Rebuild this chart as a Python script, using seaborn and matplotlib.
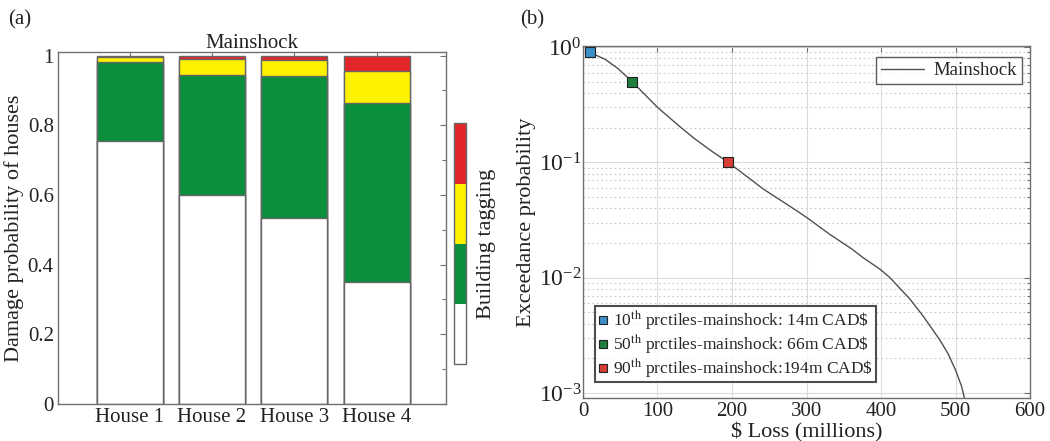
import numpy as np
import pandas as pd
import matplotlib
matplotlib.use("Agg")
import matplotlib.pyplot as plt
import seaborn as sns
from matplotlib.colors import ListedColormap
from matplotlib.ticker import MultipleLocator, LogLocator, NullFormatter
import matplotlib as mpl

# ---------------- data ----------------
houses = ["House 1", "House 2", "House 3", "House 4"]
p_green_tag = [0.755, 0.600, 0.535, 0.350]   # white (no tag)
p_green = [0.225, 0.345, 0.405, 0.515]
p_yellow = [0.015, 0.045, 0.047, 0.090]
p_red = [0.005, 0.010, 0.013, 0.045]

tag_colors = ["#FFFFFF", "#0A8F3C", "#FFF200", "#E3262A"]

loss = [9, 30, 47, 66, 100, 130, 150, 175, 195, 242, 287, 301, 331, 361,
        376, 399, 412, 439, 457, 466, 479, 490, 500, 508, 512]
exceed = [0.90, 0.78, 0.65, 0.50, 0.30, 0.204, 0.16, 0.122, 0.10, 0.0587,
          0.0380, 0.033, 0.0238, 0.0177, 0.0149, 0.0118, 0.0100, 0.0065,
          0.0046, 0.0038, 0.00288, 0.00219, 0.00158, 0.00115, 0.0009]

pct_loss = [9, 66, 194]
pct_prob = [0.9, 0.5, 0.1]
pct_labels = ["10$^{\\rm th}$ prctiles-mainshock: 14m CAD\\$",
              "50$^{\\rm th}$ prctiles-mainshock: 66m CAD\\$",
              "90$^{\\rm th}$ prctiles-mainshock:194m CAD\\$"]
pct_colors = ["#3A8FC8", "#1F7F3F", "#D63E36"]

# ---------------- style ----------------
sns.set_theme(style="white")
plt.rcParams["font.family"] = ["Liberation Serif", "DejaVu Serif"]
plt.rcParams["mathtext.fontset"] = "stix"
plt.rcParams["axes.edgecolor"] = "#707070"
plt.rcParams["xtick.color"] = "#707070"
plt.rcParams["ytick.color"] = "#707070"
plt.rcParams["xtick.labelcolor"] = "#222222"
plt.rcParams["ytick.labelcolor"] = "#222222"

TXT = "#222222"
fig = plt.figure(figsize=(10.5, 4.41), dpi=100)
ax1 = fig.add_axes([0.0552, 0.0839, 0.4248 - 0.0552, 0.882 - 0.0839])
cax = fig.add_axes([0.4327, 0.1739, 0.0111, 0.5465])
ax2 = fig.add_axes([0.5552, 0.0968, 0.981 - 0.5552, 0.8957 - 0.0968])

# ---------------- panel (a) ----------------
c1 = np.array(p_green_tag)
c2 = c1 + np.array(p_green)
c3 = c2 + np.array(p_yellow)
c4 = c3 + np.array(p_red)
layers = [c4, c3, c2, c1]
lcols = [tag_colors[3], tag_colors[2], tag_colors[1], tag_colors[0]]
for vals, col in zip(layers, lcols):
    df = pd.DataFrame({"house": houses, "p": vals})
    sns.barplot(data=df, x="house", y="p", color=col, width=0.8,
                edgecolor="#666666", linewidth=1.0, saturation=1, ax=ax1)

ax1.set_xlim(-0.87, 3.84)
ax1.set_ylim(0, 1.01)
ax1.set_xlabel("")
ax1.set_ylabel("Damage probability of houses", fontsize=16, color=TXT, labelpad=3)
ax1.set_title("Mainshock", fontsize=15, color=TXT, pad=3)
ax1.set_yticks([0, 0.2, 0.4, 0.6, 0.8, 1.0])
ax1.set_yticklabels(["0", "0.2", "0.4", "0.6", "0.8", "1"])
ax1.yaxis.set_minor_locator(MultipleLocator(0.1))
ax1.tick_params(axis="both", which="both", direction="in", top=True, right=True,
                labelsize=15, length=4, width=0.8, pad=3)
ax1.tick_params(axis="y", which="minor", length=3)
for s in ax1.spines.values():
    s.set_linewidth(1.0)

cmap = ListedColormap(tag_colors)
cb = mpl.colorbar.ColorbarBase(cax, cmap=cmap, orientation="vertical")
cb.set_ticks([])
cb.outline.set_edgecolor("#666666")
cb.outline.set_linewidth(1.0)
cax.set_ylabel("Building tagging", fontsize=16, color=TXT, rotation=90, labelpad=8)
cax.yaxis.set_label_position("right")

# ---------------- panel (b) ----------------
dfc = pd.DataFrame({"loss": loss, "p": exceed})
sns.lineplot(data=dfc, x="loss", y="p", color="#505050", linewidth=1.0, ax=ax2,
             label="Mainshock", sort=False)
ax2.set_yscale("log")
ax2.set_xlim(0, 600)
ax2.set_ylim(9.0e-4, 1.02)
ax2.xaxis.set_major_locator(MultipleLocator(100))
ax2.yaxis.set_major_locator(LogLocator(base=10, numticks=10))
ax2.yaxis.set_minor_locator(LogLocator(base=10, subs=np.arange(2, 10), numticks=10))
ax2.yaxis.set_minor_formatter(NullFormatter())
ax2.grid(True, which="major", color="#dcdcdc", linestyle="-", linewidth=0.8)
ax2.grid(True, which="minor", axis="y", color="#c8c8c8", linestyle=(0, (1.5, 2.5)), linewidth=0.8)
ax2.set_axisbelow(True)
ax2.tick_params(axis="both", which="both", direction="in", top=True, right=True,
                labelsize=15, length=4, width=0.8, pad=3)
ax2.tick_params(axis="y", which="minor", length=2.5)
ax2.tick_params(axis="y", which="major", labelsize=17, pad=1)
for s in ax2.spines.values():
    s.set_linewidth(1.0)

leg1 = ax2.legend(loc="upper right", fontsize=13.5, frameon=True, fancybox=False,
                  edgecolor="#333333", handlelength=2.3, handletextpad=0.5,
                  borderpad=0.25, borderaxespad=0, bbox_to_anchor=(0.981, 0.968))
leg1.get_frame().set_linewidth(1.0)

handles = []
for xv, yv, col in zip(pct_loss, pct_prob, pct_colors):
    dfp = pd.DataFrame({"loss": [xv], "p": [yv]})
    sns.scatterplot(data=dfp, x="loss", y="p", marker="s", s=48, color=col,
                    edgecolor="#222222", linewidth=0.8, ax=ax2, zorder=5, legend=False)
    h = plt.Line2D([], [], marker="s", linestyle="none", markersize=6,
                   markerfacecolor=col, markeredgecolor="#222222", markeredgewidth=0.8)
    handles.append(h)
ax2.set_xlabel("\\$ Loss (millions)", fontsize=16, color=TXT, labelpad=1)
ax2.set_ylabel("Exceedance probability", fontsize=16, color=TXT, labelpad=2)
leg2 = ax2.legend(handles, pct_labels, loc="lower left", fontsize=12.5, frameon=True,
                  fancybox=False, edgecolor="#222222", handlelength=0.6,
                  handletextpad=0.3, borderpad=0.15, labelspacing=0.02,
                  borderaxespad=0, bbox_to_anchor=(0.027, 0.045))
leg2.get_frame().set_linewidth(1.5)
ax2.add_artist(leg1)

fig.text(0.008, 0.955, "(a)", fontsize=15, color=TXT, va="center")
fig.text(0.495, 0.955, "(b)", fontsize=15, color=TXT, va="center")

fig.savefig("out.png", dpi=100)
